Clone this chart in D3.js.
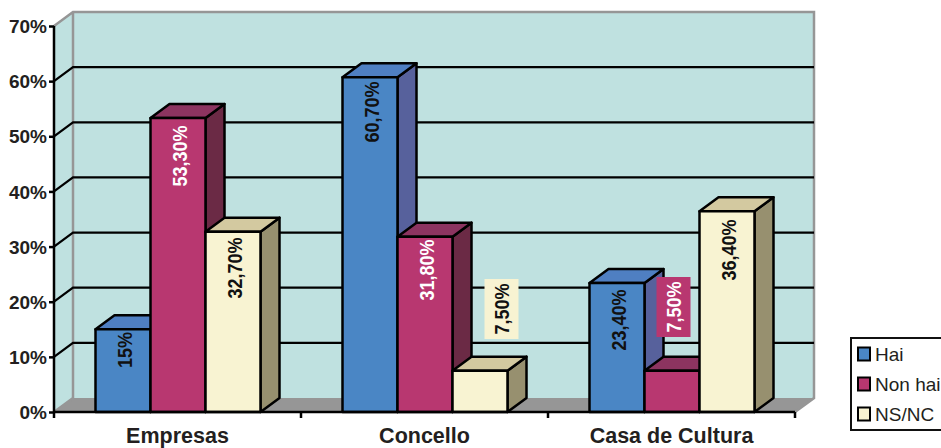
<!DOCTYPE html>
<html><head><meta charset="utf-8">
<script src="https://cdnjs.cloudflare.com/ajax/libs/d3/7.8.5/d3.min.js"></script>
<style>html,body{margin:0;padding:0;background:#fff;overflow:hidden}svg{display:block}text{font-family:"Liberation Sans",Arial,sans-serif}</style>
</head><body><svg id="c" width="941" height="448"></svg>
<script>
const categories=["Empresas","Concello","Casa de Cultura"];
const seriesNames=["Hai","Non hai","NS/NC"];
const hai=[15,60.7,23.4];
const nonHai=[53.3,31.8,7.5];
const nsnc=[32.7,7.5,36.4];
const haiLabels=["15%","60,70%","23,40%"];
const nonHaiLabels=["53,30%","31,80%","7,50%"];
const nsncLabels=["32,70%","7,50%","36,40%"];
const yTicks=[0,10,20,30,40,50,60,70];

const frontColors=["#4a86c5","#b83770","#f8f3d2"];
const topColors=["#4f7fc2","#8c3460","#d3c9a0"];
const sideColors=["#57619c","#6b2a45","#97906f"];
const labelColors=["#111","#fff","#111"];
const DX=19,DY=-14;
const svg=d3.select("#c");
const y=d3.scaleLinear().domain([0,70]).range([412,26]);
const x0=d3.scaleBand().domain(categories).range([54,795]);
const x1=d3.scaleBand().domain(seriesNames).range([41.5,206.5]);
const L=54,R=795,B=y(0),T=y(70);
const poly=(pts,fill)=>svg.append("polygon").attr("points",pts.map(p=>p.join(",")).join(" ")).attr("fill",fill);
// walls
poly([[L+DX,T+DY],[R+DX,T+DY],[R+DX,B+DY],[L+DX,B+DY]],"#bfe1e0");
poly([[L,T],[L+DX,T+DY],[L+DX,B+DY],[L,B]],"#bfe1e0");
poly([[L,B],[L+DX,B+DY],[R+DX,B+DY],[R,B]],"#969696");
// wall edges
svg.append("path").attr("fill","none").attr("stroke","#969696").attr("stroke-width",2.5)
  .attr("d",`M${L},${T}L${L+DX},${T+DY}H${R+DX}V${B+DY}L${R},${B}M${L+DX},${T+DY}V${B+DY}L${L},${B}`);
// gridlines
svg.append("g").selectAll("path").data(yTicks.filter(d=>d>0&&d<70)).join("path")
  .attr("fill","none").attr("stroke","#000").attr("stroke-width",2.2)
  .attr("d",d=>`M${L},${y(d)}L${L+DX},${y(d)+DY}H${R+DX}`);
// bars
const series=[hai,nonHai,nsnc];
const labels=[haiLabels,nonHaiLabels,nsncLabels];
const bars=[];
categories.forEach((c,i)=>series.forEach((s,j)=>bars.push({c,i,j,name:seriesNames[j],v:s[i],label:labels[j][i]})));
const bg=svg.append("g");
bars.forEach(b=>{
  const xa=x0(b.c)+x1(b.name),xb=xa+x1.bandwidth(),yt=y(b.v);
  const g=bg.append("g").attr("stroke","#000").attr("stroke-width",2.5).attr("stroke-linejoin","round");
  g.append("polygon").attr("fill",sideColors[b.j]).attr("points",[[xb,yt],[xb+DX,yt+DY],[xb+DX,B+DY],[xb,B]].join(" "));
  g.append("polygon").attr("fill",topColors[b.j]).attr("points",[[xa,yt],[xa+DX,yt+DY],[xb+DX,yt+DY],[xb,yt]].join(" "));
  g.append("rect").attr("x",xa).attr("y",yt).attr("width",xb-xa).attr("height",B-yt).attr("fill",frontColors[b.j]);
});
// axes
const ax=svg.append("g").attr("transform",`translate(${L},0)`).call(d3.axisLeft(y).tickValues(yTicks).tickSize(5).tickFormat(d=>d+"%"));
ax.select(".domain").attr("stroke","#000").attr("stroke-width",2.5).attr("d",`M0,${T}V${B}`);
ax.selectAll(".tick line").attr("stroke","#000").attr("stroke-width",2.5);
ax.selectAll("text").attr("font-size",19).attr("font-weight","bold").attr("fill","#231f20").attr("x",-7).attr("dy","0.35em").style("font-family",'"Liberation Sans",Arial,sans-serif');
const xa=svg.append("g").attr("transform",`translate(0,${B})`).call(d3.axisBottom(x0).tickSize(0));
xa.select(".domain").attr("stroke","#000").attr("stroke-width",2.5).attr("d",`M${L},0H${R}`);
xa.selectAll("text").attr("font-size",21.5).attr("font-weight","bold").attr("fill","#231f20").attr("y",31).attr("dy",0).style("font-family",'"Liberation Sans",Arial,sans-serif');
svg.append("g").selectAll("line").data(d3.range(categories.length+1)).join("line")
  .attr("x1",i=>L+i*x0.step()).attr("x2",i=>L+i*x0.step()).attr("y1",B).attr("y2",B+6).attr("stroke","#000").attr("stroke-width",2.5);
// data labels
const labelY={"0-0":350,"0-1":156,"0-2":268,"1-0":112,"1-1":270,"1-2":309,"2-0":320,"2-1":307,"2-2":250};
bars.forEach(b=>{
  const xc=x0(b.c)+x1(b.name)+x1.bandwidth()/2;
  const cy=labelY[b.i+"-"+b.j];
  const boxed=b.v===7.5;
  const cx=xc+(boxed&&b.j===2?20:0)+1.5;
  const g=svg.append("g").attr("transform",`translate(${cx},${cy}) rotate(-90)`);
  if(boxed)g.append("rect").attr("x",-30).attr("y",-17).attr("width",60).attr("height",34).attr("fill",frontColors[b.j]);
  g.append("text").attr("transform","scale(0.88,1)").attr("text-anchor","middle").attr("dy","0.35em").attr("font-size",20.5).attr("font-weight","bold").attr("fill",labelColors[b.j]).text(b.label);
});
// legend
svg.append("rect").attr("x",851).attr("y",338).attr("width",110).attr("height",92).attr("fill","#fff").attr("stroke","#111").attr("stroke-width",2);
const ly=d3.scalePoint().domain(seriesNames).range([354,414]);
seriesNames.forEach((n,j)=>{
  svg.append("rect").attr("x",858).attr("y",ly(n)-6.5).attr("width",12).attr("height",13).attr("fill",frontColors[j]).attr("stroke","#000").attr("stroke-width",2);
  svg.append("text").attr("x",875).attr("y",ly(n)).attr("dy","0.35em").attr("font-size",19).attr("fill","#231f20").text(n);
});
</script></body></html>
